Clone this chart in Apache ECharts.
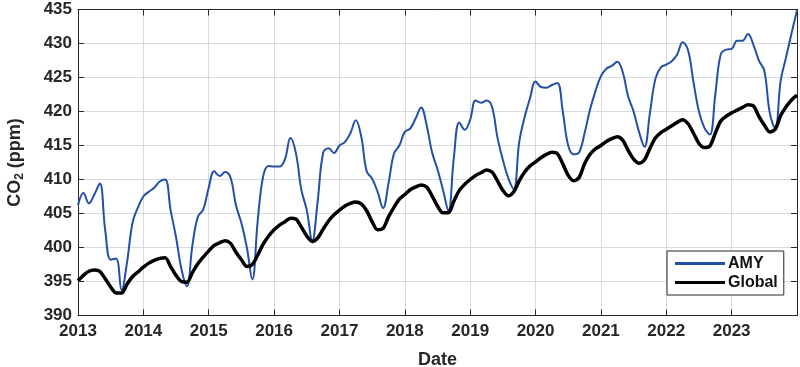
<!DOCTYPE html>
<html>
<head>
<meta charset="utf-8">
<script src="https://cdn.jsdelivr.net/npm/echarts@6/dist/echarts.min.js"></script>
<style>
html,body{margin:0;padding:0;background:#fff;}
#chart{width:800px;height:367px;}
</style>
</head>
<body>
<div id="chart"></div>
<script>
// Monthly samples, starting Jan 2013, ending Jan 2024 (133 points)
const startYear = 2013;
const yTicks = [390, 395, 400, 405, 410, 415, 420, 425, 430, 435];
const xTickYears = [2013, 2014, 2015, 2016, 2017, 2018, 2019, 2020, 2021, 2022, 2023];
const seriesNames = ['AMY', 'Global'];

const amyValues = [
  // 2013
  406.2, 408.0, 406.5, 407.8, 409.4, 402.5, 398.2, 398.4, 393.7, 397.8, 403.6, 405.9,
  // 2014
  407.5, 408.2, 408.8, 409.7, 410.0, 405.5, 401.5, 396.8, 394.3, 400.3, 404.5, 405.6,
  // 2015
  408.8, 411.2, 410.5, 411.1, 410.3, 406.2, 403.6, 400.0, 395.3, 404.0, 410.5, 412.0,
  // 2016
  411.9, 411.9, 413.0, 416.1, 413.9, 408.5, 405.5, 401.0, 406.8, 413.9, 414.6, 413.9,
  // 2017
  415.0, 415.5, 416.8, 418.7, 416.3, 411.2, 410.1, 408.2, 405.8, 409.4, 413.8, 415.0,
  // 2018
  417.0, 417.5, 419.0, 420.6, 418.0, 414.0, 411.5, 408.5, 405.4, 413.2, 418.4, 417.3,
  // 2019
  418.8, 421.6, 421.3, 421.6, 420.7, 416.2, 412.9, 410.2, 408.6, 415.5, 419.2, 422.0,
  // 2020
  424.4, 423.6, 423.5, 423.9, 424.2, 420.0, 415.0, 413.7, 414.0, 416.8, 420.3, 423.0,
  // 2021
  425.2, 426.3, 426.7, 427.3, 425.8, 422.2, 420.0, 417.0, 414.8, 419.8, 424.8, 426.5,
  // 2022
  426.9, 427.4, 428.4, 430.2, 429.0, 424.3, 420.0, 417.6, 416.6, 422.5, 428.4, 429.1,
  // 2023
  429.2, 430.4, 430.4, 431.4, 429.8, 427.5, 426.0, 419.8, 417.5, 424.5, 428.0, 431.5,
  // 2024 Jan
  434.9
];

const globalValues = [
  // 2013
  395.1, 395.9, 396.5, 396.7, 396.5, 395.4, 394.2, 393.3, 393.3, 394.6, 395.7, 396.4,
  // 2014
  397.1, 397.7, 398.1, 398.4, 398.5, 397.2, 395.9, 395.0, 394.9, 396.3, 397.6, 398.6,
  // 2015
  399.5, 400.3, 400.7, 401.0, 400.6, 399.3, 398.2, 397.2, 397.5, 398.9, 400.5, 401.7,
  // 2016
  402.6, 403.3, 403.8, 404.3, 404.2, 403.0, 401.7, 400.9, 401.4, 402.7, 403.9, 404.8,
  // 2017
  405.5, 406.1, 406.5, 406.7, 406.4, 405.4, 403.8, 402.6, 402.8, 404.5, 405.9, 407.1,
  // 2018
  407.8, 408.5, 408.9, 409.2, 408.9, 407.6, 406.1, 405.1, 405.1, 406.8, 408.4, 409.3,
  // 2019
  410.0, 410.6, 411.0, 411.4, 411.1, 409.8, 408.4, 407.6, 408.2, 409.8, 411.1, 412.0,
  // 2020
  412.6, 413.2, 413.7, 414.0, 413.8, 412.3, 410.6, 409.8, 410.3, 412.3, 413.7, 414.5,
  // 2021
  415.0, 415.6, 416.0, 416.3, 415.8, 414.3, 413.0, 412.4, 412.9, 414.6, 416.1, 416.9,
  // 2022
  417.4, 417.9, 418.4, 418.8, 418.2, 416.8, 415.3, 414.7, 414.9, 416.8, 418.6, 419.3,
  // 2023
  419.8, 420.2, 420.6, 421.0, 420.8, 419.3, 418.0, 417.0, 417.4, 419.4, 420.7, 421.7,
  // 2024 Jan
  422.4
];

const toPairs = vals => vals.map((v, i) => [startYear + i / 12, v]);

const FONT = '"Liberation Sans", Arial, sans-serif';
const AX = '#262626';
const GRIDC = '#d9d9d9';

const chart = echarts.init(document.getElementById('chart'), null, {renderer: 'canvas'});
const xMin = xTickYears[0], xMax = xTickYears[xTickYears.length - 1] + 1;
const yMin = yTicks[0], yMax = yTicks[yTicks.length - 1];

chart.setOption({
  animation: false,
  backgroundColor: '#fff',
  grid: {left: 78, right: 3, top: 9.5, bottom: 51.5, containLabel: false, outerBoundsMode: 'none'},
  legend: {
    data: seriesNames,
    orient: 'vertical',
    left: 667, top: 251,
    padding: [4, 6, 4, 8],
    itemGap: 2,
    itemWidth: 50,
    itemHeight: 3,
    icon: 'rect',
    borderColor: AX, borderWidth: 1,
    backgroundColor: '#fff',
    textStyle: {fontFamily: FONT, fontSize: 16, fontWeight: 'bold', color: '#111', lineHeight: 17, padding: [0,0,0,-2]}
  },
  xAxis: [{
    type: 'value', min: xMin, max: xMax, interval: 1,
    name: 'Date', nameLocation: 'middle', nameGap: 36,
    nameTextStyle: {fontFamily: FONT, fontSize: 18, fontWeight: 'bold', color: AX},
    axisLine: {show: true, onZero: false, lineStyle: {color: AX, width: 1}},
    axisTick: {show: true, inside: true, length: 6, lineStyle: {color: AX}},
    axisLabel: {fontFamily: FONT, fontSize: 17, fontWeight: 'bold', color: AX, margin: 7,
      formatter: v => (xTickYears.indexOf(Math.round(v)) >= 0 ? String(Math.round(v)) : '')},
    splitLine: {show: true, lineStyle: {color: GRIDC, width: 1}}
  }, {
    type: 'value', min: xMin, max: xMax, interval: 1, position: 'top',
    axisLine: {show: true, onZero: false, lineStyle: {color: AX, width: 1}},
    axisTick: {show: true, inside: true, length: 6, lineStyle: {color: AX}},
    axisLabel: {show: false}, splitLine: {show: false}
  }],
  yAxis: [{
    type: 'value', min: yMin, max: yMax, interval: 5,
    name: '{a|CO}{b|2}{a| (ppm)}', nameLocation: 'middle', nameGap: 52, nameRotate: 90,
    nameTextStyle: {
      color: AX,
      rich: {
        a: {fontFamily: FONT, fontSize: 18, fontWeight: 'bold', color: AX},
        b: {fontFamily: FONT, fontSize: 12, fontWeight: 'bold', color: AX, padding: [10, 0, 0, 0]}
      }
    },
    axisLine: {show: true, onZero: false, lineStyle: {color: AX, width: 1}},
    axisTick: {show: true, inside: true, length: 6, lineStyle: {color: AX}},
    axisLabel: {fontFamily: FONT, fontSize: 17, fontWeight: 'bold', color: AX, margin: 6},
    splitLine: {show: true, lineStyle: {color: GRIDC, width: 1}}
  }, {
    type: 'value', min: yMin, max: yMax, interval: 5, position: 'right',
    axisLine: {show: true, onZero: false, lineStyle: {color: AX, width: 1}},
    axisTick: {show: true, inside: true, length: 6, lineStyle: {color: AX}},
    axisLabel: {show: false}, splitLine: {show: false}
  }],
  series: [{
    name: seriesNames[0], type: 'line', data: toPairs(amyValues),
    showSymbol: false, smooth: 0.4,
    lineStyle: {color: '#2250a8', width: 2},
    itemStyle: {color: '#2250a8'}, z: 3
  }, {
    name: seriesNames[1], type: 'line', data: toPairs(globalValues),
    showSymbol: false, smooth: 0.3,
    lineStyle: {color: '#000', width: 3.5},
    itemStyle: {color: '#000'}, z: 4
  }]
});
</script>
</body>
</html>
